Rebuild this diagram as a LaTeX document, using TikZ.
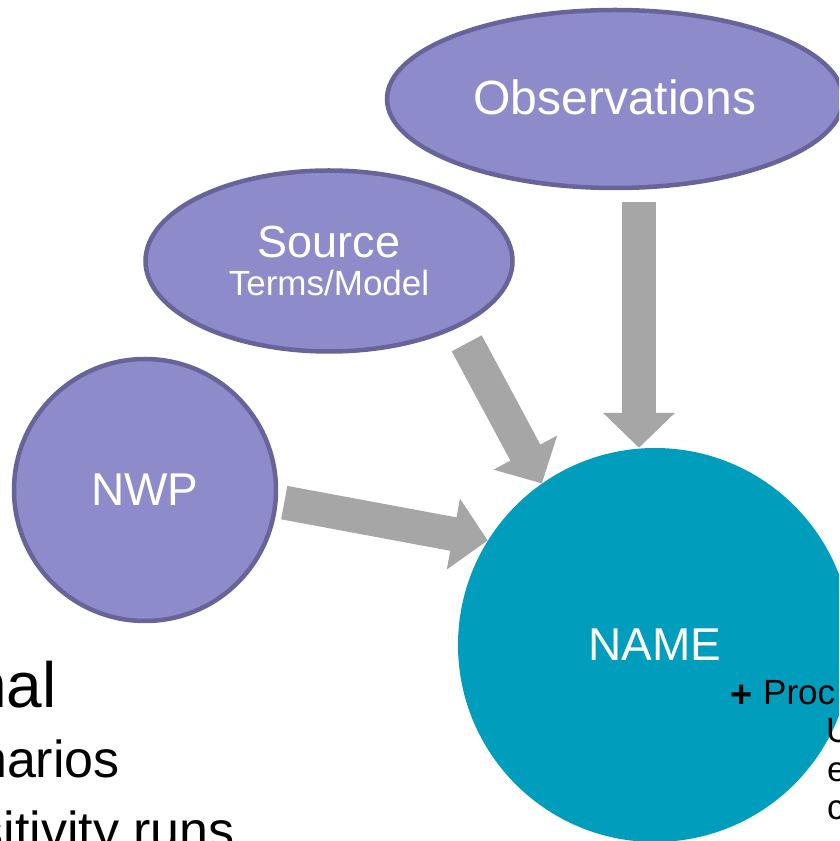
\documentclass[tikz,border=0pt]{standalone}
\usepackage{fontspec}
\setmainfont{Liberation Sans}
\usepackage{tikz}
\usetikzlibrary{shapes.geometric,arrows.meta}

\definecolor{blobfill}{HTML}{8D8BC9}
\definecolor{blobedge}{HTML}{67649A}
\definecolor{namefill}{HTML}{009DBD}
\definecolor{feedgray}{HTML}{A6A6A6}

\newcommand{\fsize}[2]{\fontsize{#1}{#2}\selectfont}

\begin{document}
\begin{tikzpicture}[x=1pt, y=1pt]
        % Sizes of the input blobs and of the model circle
        \pgfmathsetmacro{\edge}{4.5}
        \pgfmathsetmacro{\namesize}{394}

        % Styles for the blobs and the thick grey feeds
        \tikzset{
            blob/.style={draw=blobedge, fill=blobfill, line width=\edge pt,
                text=white, inner sep=0pt, align=center},
            feed/.style={draw=feedgray, line width=34pt,
                -{Triangle[width=70pt, length=35pt]}},
            note/.style={inner sep=0pt, text=black},
        }

        % Page frame
        \useasboundingbox (0, 0) rectangle (839, 841);
        \clip (0, 0) rectangle (839, 841);

        % Inputs
        \node[blob, ellipse, minimum width=456pt, minimum height=178pt]
            (obs) at (615, 742) {\fsize{48}{58}\raisebox{4pt}{Observations}};
        \node[blob, ellipse, minimum width=367pt, minimum height=181pt]
            (src) at (329, 580) {\fsize{45}{46}Source\\[12pt]\fsize{35}{42}Terms/Model};
        \node[blob, circle, minimum size=262pt]
            (nwp) at (145, 351) {\fsize{46}{55}NWP};

        % Model
        \node[circle, fill=namefill, text=white, inner sep=0pt,
            minimum size=\namesize pt] (name) at (655, 196) {\fsize{46}{55}NAME};

        % Feeds into the model
        \begin{scope}
            \draw[feed] ([shift={(24, -12)}]obs.south) -- ([xshift=-16pt]name.north);
            \draw[feed] ([shift={(19, -11)}]src.-31) -- (name.125);
            \draw[feed] ([shift={(6.5, -1)}]nwp.-5) -- (name.148);
        \end{scope}

        % Left hand list, cut by the page edge
        \node[note, anchor=base east] (opline) at (57, 133) {\fsize{64}{77}nal};
        \node[note, anchor=base east] (scline) at (120, 63) {\fsize{52}{62}narios};
        \node[note, anchor=base east] (seline) at (235, -8) {\fsize{52}{62}sitivity runs};

        % Right hand list, cut by the page edge
        \node[note] (plus) at (742, 145) {\fsize{38}{44}\textbf{+}};
        \node[note, anchor=base west] (procline) at (763, 136) {\fsize{35}{42}Proc};
        \node[note, anchor=base west] (uline) at (826, 98) {\fsize{35}{42}U};
        \node[note, anchor=base west] (eline) at (827, 59) {\fsize{35}{42}e};
        \node[note, anchor=base west] (cline) at (827, 21) {\fsize{35}{42}c};

\end{tikzpicture}
\end{document}
